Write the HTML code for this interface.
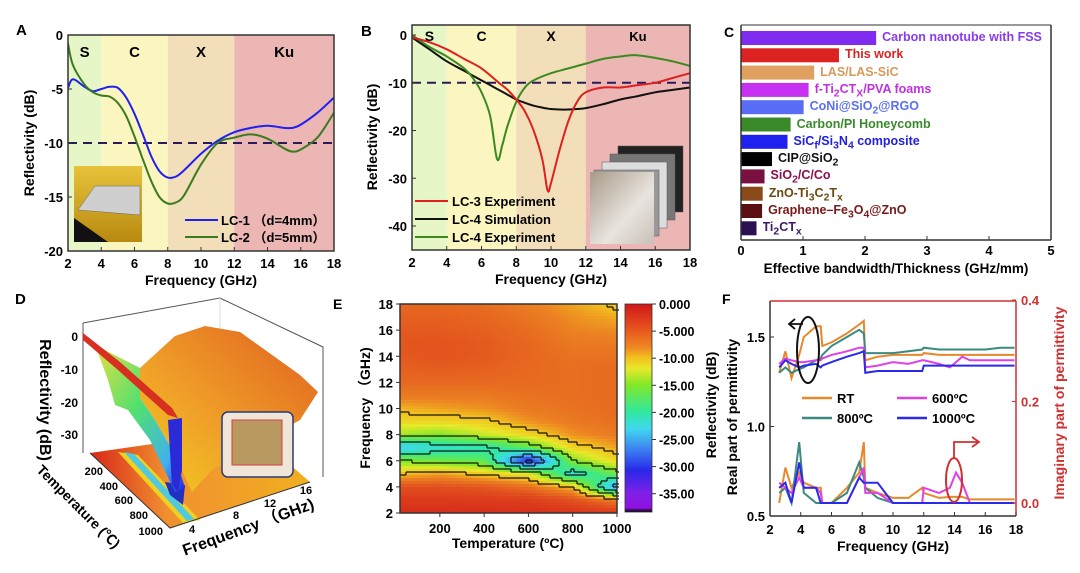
<!DOCTYPE html>
<html><head><meta charset="utf-8">
<style>
html,body{margin:0;padding:0;background:#fff;}
svg{display:block;font-family:"Liberation Sans",Arial,sans-serif;font-weight:bold;}
text{font-family:"Liberation Sans","Noto Sans CJK SC",sans-serif;}
</style></head>
<body>
<svg id="fig" width="1080" height="573" viewBox="0 0 1080 573" xmlns="http://www.w3.org/2000/svg">
<defs>
<linearGradient id="inA" x1="0" y1="0" x2="0" y2="1"><stop offset="0" stop-color="#e8c23a"/><stop offset="1" stop-color="#b88a10"/></linearGradient>
<linearGradient id="inB" x1="0" y1="0" x2="1" y2="1"><stop offset="0" stop-color="#a89a88"/><stop offset="0.6" stop-color="#e8e4de"/><stop offset="1" stop-color="#c8c0b8"/></linearGradient>
<linearGradient id="hill" x1="0" y1="1" x2="1" y2="0"><stop offset="0" stop-color="#f0d020"/><stop offset="0.4" stop-color="#f0a028"/><stop offset="1" stop-color="#e06020"/></linearGradient>
<linearGradient id="slope" x1="0" y1="0" x2="1" y2="1"><stop offset="0" stop-color="#e8e040"/><stop offset="0.45" stop-color="#50e070"/><stop offset="0.8" stop-color="#40b0f0"/><stop offset="1" stop-color="#2020e0"/></linearGradient>
<linearGradient id="floorg" x1="0" y1="0" x2="1" y2="0"><stop offset="0" stop-color="#d82818"/><stop offset="0.35" stop-color="#f09030"/><stop offset="1" stop-color="#f0b020"/></linearGradient>
<linearGradient id="cbar" x1="0" y1="0" x2="0" y2="1"><stop offset="0" stop-color="#d01818"/><stop offset="0.13" stop-color="#e85a1e"/><stop offset="0.21" stop-color="#ee8a22"/><stop offset="0.26" stop-color="#f2c21e"/><stop offset="0.31" stop-color="#e8e82a"/><stop offset="0.39" stop-color="#80e828"/><stop offset="0.52" stop-color="#30e8a0"/><stop offset="0.6" stop-color="#40d8f0"/><stop offset="0.7" stop-color="#3c80f0"/><stop offset="0.8" stop-color="#2828e8"/><stop offset="0.91" stop-color="#8020e8"/><stop offset="0.98" stop-color="#9010e0"/><stop offset="1" stop-color="#000"/></linearGradient>
<clipPath id="clipA"><rect x="68" y="35" width="266" height="216"/></clipPath>
<clipPath id="clipB"><rect x="412" y="25" width="278" height="225"/></clipPath>
<clipPath id="clipF"><rect x="770" y="301" width="246" height="215"/></clipPath>
</defs>
<g id="gA"></g>
<g id="gB"></g>
<g id="gC"></g>
<g id="gD">
  <text x="15" y="304" font-size="15">D</text>
  <polyline points="83,323 220,298 323,347 323,477" fill="none" stroke="#555" stroke-width="1"/>
  <line x1="83" y1="323" x2="83" y2="453" stroke="#555"/>
  <line x1="220" y1="298" x2="220" y2="420" stroke="#ddd"/>
  <polygon points="90,453 170,528 310,482 250,430" fill="url(#floorg)"/>
  <polygon points="118,452 138,455 200,520 183,523" fill="#f0d020"/>
  <polygon points="124,452 134,454 194,519 187,521" fill="#50c8e0"/>
  <polygon points="165,482 185,485 183,505 170,495" fill="#2030c0"/>
  <polyline points="90,453 170,528 310,482" fill="none" stroke="#333"/>
  <polygon points="140,368 175,336 205,326 240,332 268,352 300,375 318,392 300,420 255,445 212,470 192,492 175,455 155,420 140,398" fill="url(#hill)"/>
  <polygon points="95,345 140,368 140,398 155,420 175,455 185,488 175,492 150,440 128,410 115,405 108,380" fill="url(#slope)"/>
  <polygon points="83,333 120,362 172,408 178,418 168,415 118,370 83,340" fill="#d83020"/>
  <polygon points="168,420 182,418 182,470 178,492 172,485" fill="#2a2ad8"/>
  <rect x="222" y="412" width="71" height="65" rx="6" fill="#efe6d8" stroke="#2a3a78" stroke-width="1.5"/>
  <rect x="232" y="420" width="50" height="45" fill="#b89a60" stroke="#d04040"/>
  <g font-size="12" text-anchor="end">
    <text x="78" y="341">0</text><text x="78" y="374">-10</text><text x="78" y="407">-20</text><text x="78" y="439">-30</text>
  </g>
  <text transform="translate(40,400) rotate(90)" font-size="16" text-anchor="middle">Reflectivity (dB)</text>
  <g font-size="11" text-anchor="end">
    <text x="103" y="475">200</text><text x="118" y="490">400</text><text x="133" y="504">600</text><text x="148" y="519">800</text><text x="163" y="535">1000</text>
  </g>
  <text transform="translate(75,510) rotate(45)" font-size="14" text-anchor="middle">Temperature (℃)</text>
  <g font-size="11" text-anchor="middle">
    <text x="192" y="533">4</text><text x="236" y="519">8</text><text x="270" y="507">12</text><text x="306" y="494">16</text>
  </g>
  <text transform="translate(250,532) rotate(-20)" font-size="16" text-anchor="middle">Frequency （GHz)</text>
</g>
<g id="gE"></g>
<g id="gF"></g>
</svg>
<script>
// ---------- Panel A data ----------
const freqA = [2,2.3,3,3.5,4,4.5,5,5.5,6,6.5,7,7.5,8,8.5,9,10,11,12,13,14,15,15.5,16,17,18];
const lc1 = [-4.9,-4.1,-4.8,-5.2,-5.0,-4.8,-4.9,-5.8,-7.3,-9.2,-11.2,-12.6,-13.2,-13.1,-12.5,-11.0,-9.8,-9.0,-8.6,-8.4,-8.6,-8.6,-8.3,-7.2,-5.8];
const lc2 = [-0.8,-2.8,-4.6,-5.3,-5.6,-5.7,-6.3,-7.5,-9.4,-11.5,-13.5,-15.0,-15.6,-15.5,-14.8,-12.0,-10.0,-9.5,-9.2,-9.6,-10.5,-10.8,-10.6,-9.5,-7.2];
const ticksA_y = [0,-5,-10,-15,-20];
const ticksX = [2,4,6,8,10,12,14,16,18];
// ---------- Panel B data ----------
const freqB = [2,3,4,5,6,7,7.5,8,8.5,9,9.5,9.8,10,10.5,11,11.5,12,13,14,15,16,17,18];
const lc3exp = [-0.5,-1.5,-3,-5,-7,-10,-11.5,-13.5,-16,-20,-26,-32.5,-31,-24,-18,-14,-12,-11,-11,-10.5,-10,-9,-8];
const lc4sim = [-0.5,-3,-5.5,-7.5,-9.5,-11.5,-12.5,-13.5,-14.2,-14.8,-15.2,-15.4,-15.5,-15.6,-15.6,-15.5,-15.3,-14.5,-13.5,-12.8,-12,-11.5,-11];
const freqB2 = [2,3,4,5,5.5,6,6.5,6.9,7.2,7.5,8,8.5,9,10,11,12,13,14,14.8,16,17,18];
const lc4exp = [0,-2.5,-4.5,-7,-9,-12,-17,-26,-23,-19,-14,-11,-9.5,-8,-7,-6,-5,-4.5,-4.2,-4.8,-5.5,-6.5];
const ticksB_y = [0,-10,-20,-30,-40];
// ---------- Panel C data ----------
const materialsC = ["Carbon nanotube with FSS","This work","LAS/LAS-SiC","f-Ti<sub>2</sub>CT<sub>X</sub>/PVA foams","CoNi@SiO<sub>2</sub>@RGO","Carbon/PI Honeycomb","SiC<sub>f</sub>/Si<sub>3</sub>N<sub>4</sub> composite","CIP@SiO<sub>2</sub>","SiO<sub>2</sub>/C/Co","ZnO-Ti<sub>3</sub>C<sub>2</sub>T<sub>x</sub>","Graphene–Fe<sub>3</sub>O<sub>4</sub>@ZnO","Ti<sub>2</sub>CT<sub>x</sub>"];
const valuesC = [2.18,1.58,1.18,1.09,1.01,0.80,0.75,0.50,0.38,0.35,0.34,0.25];
const ticksC = [0,1,2,3,4,5];
// ---------- Panel E data ----------
const tempsE = [20,200,400,600,800,1000];
const freqsE = [2,3,4,5,6,7,8,9,10,11,12,13,14,15,16,17,18];
const rlE = [
 [-2,-3,-5,-10,-15,-24,-14,-11,-9.5,-7.5,-6.5,-6,-5.5,-5.3,-5.6,-6,-6.5],
 [-2,-3,-5,-9,-16,-22,-15,-11,-9,-7.5,-6.5,-5.8,-5.2,-5.2,-5.6,-6,-6.5],
 [-2,-3.2,-5.5,-10.5,-17,-21,-13,-10.5,-8.5,-7.5,-6.5,-6,-5.6,-5.6,-6,-6.3,-6.8],
 [-2,-3.5,-7,-12,-32,-17,-11,-8.5,-7.5,-7,-6.6,-6.5,-6.3,-6.4,-6.7,-7.2,-7.8],
 [-2.5,-5,-10,-22,-15,-11,-8.5,-7.5,-7,-6.8,-6.8,-6.8,-7,-7.4,-8,-8.4,-9],
 [-3,-8,-27,-16,-11,-9,-7.5,-6.8,-6.6,-6.6,-6.6,-6.6,-7,-7.6,-8.3,-9.3,-10.5]];
const ticksE_x = [200,400,600,800,1000];
const ticksE_y = [2,4,6,8,10,12,14,16,18];
const cbarLabels = ["0.000","-5.000","-10.00","-15.00","-20.00","-25.00","-30.00","-35.00"];
// ---------- Panel F data ----------
const freqF = [2.6,3.0,3.4,3.9,4.2,5.0,5.3,5.4,6.0,7.0,7.8,8.1,8.2,9.0,10.0,11.0,11.9,12.0,13.0,13.7,14.1,14.5,15.0,16.0,17.0,17.9];
const realRT  = [1.30,1.42,1.27,1.40,1.50,1.56,1.56,1.45,1.47,1.52,1.57,1.59,1.37,1.39,1.40,1.40,1.40,1.41,1.40,1.40,1.40,1.40,1.40,1.40,1.40,1.40];
const real600 = [1.35,1.38,1.37,1.36,1.36,1.37,1.37,1.38,1.40,1.42,1.44,1.44,1.33,1.34,1.36,1.35,1.37,1.37,1.35,1.33,1.36,1.39,1.37,1.37,1.37,1.37];
const real800 = [1.30,1.33,1.30,1.32,1.33,1.37,1.38,1.40,1.45,1.50,1.54,1.52,1.41,1.41,1.41,1.42,1.43,1.44,1.43,1.43,1.43,1.43,1.43,1.43,1.44,1.44];
const real1000= [1.33,1.37,1.35,1.33,1.34,1.35,1.33,1.34,1.36,1.39,1.41,1.42,1.30,1.31,1.31,1.31,1.31,1.34,1.34,1.34,1.34,1.34,1.34,1.34,1.34,1.34];
const imRT  = [0.00,0.07,0.03,0.06,0.04,0.03,0.03,0.00,0.00,0.03,0.06,0.12,0.03,0.02,0.01,0.01,0.03,0.02,0.01,0.012,0.012,0.012,0.007,0.007,0.007,0.007];
const im600 = [0.04,0.03,0.02,0.05,0.03,0.03,0.02,0.00,0.00,0.00,0.05,0.07,0.02,0.02,0.00,0.00,0.00,0.03,0.02,0.03,0.06,0.04,0.00,0.00,0.00,0.00];
const im800 = [0.02,0.03,0.00,0.12,0.02,0.00,0.00,0.00,0.00,0.02,0.08,0.05,0.03,0.01,0.00,0.00,0.00,0.00,0.00,0.00,0.00,0.00,0.00,0.00,0.00,0.00];
const im1000= [0.03,0.04,0.00,0.08,0.03,0.03,0.00,0.00,0.00,0.00,0.05,0.04,0.04,0.04,0.00,0.00,0.00,0.00,0.00,0.00,0.00,0.00,0.00,0.00,0.00,0.00];
const ticksF_left = [0.5,1.0,1.5];
const ticksF_right = [0.0,0.2,0.4];

const NS = "http://www.w3.org/2000/svg";
function mk(parent, tag, attrs, txt){
  const e = document.createElementNS(NS, tag);
  for (const k in attrs) e.setAttribute(k, attrs[k]);
  if (txt !== undefined) e.textContent = txt;
  parent.appendChild(e);
  return e;
}
function lin(d0,d1,r0,r1){ return v => r0 + (v-d0)/(d1-d0)*(r1-r0); }
function smoothPath(xs, ys){
  let d = "M"+xs[0].toFixed(1)+","+ys[0].toFixed(1);
  for (let i=0;i<xs.length-1;i++){
    const x0=xs[Math.max(i-1,0)], y0=ys[Math.max(i-1,0)];
    const x1=xs[i], y1=ys[i], x2=xs[i+1], y2=ys[i+1];
    const x3=xs[Math.min(i+2,xs.length-1)], y3=ys[Math.min(i+2,xs.length-1)];
    const c1x=x1+(x2-x0)/6, c1y=y1+(y2-y0)/6, c2x=x2-(x3-x1)/6, c2y=y2-(y3-y1)/6;
    d += " C"+c1x.toFixed(1)+","+c1y.toFixed(1)+" "+c2x.toFixed(1)+","+c2y.toFixed(1)+" "+x2.toFixed(1)+","+y2.toFixed(1);
  }
  return d;
}
function linePath(xs, ys){ return xs.map((x,i)=>(i?"L":"M")+x.toFixed(1)+","+ys[i].toFixed(1)).join(" "); }

// ---------- Panel A ----------
(function(){
  const g = document.getElementById("gA");
  const L=68,R=334,T=35,B=251;
  const x = lin(2,18,L,R), y = lin(0,-20,T,B);
  const bands = [[2,4,"#e6f6c6","S"],[4,8,"#fbf5c0","C"],[8,12,"#f2dfba","X"],[12,18,"#ebb6b4","Ku"]];
  bands.forEach(b=>{
    const r = mk(g,"rect",{x:x(b[0]),y:T,width:x(b[1])-x(b[0]),height:B-T,fill:b[2]});
    
    
    const t = mk(g,"text",{x:(x(b[0])+x(b[1]))/2,y:57,"font-size":15,"text-anchor":"middle"},b[3]);
    
    
  });
  const ins = mk(g,"rect",{x:74,y:166,width:68,height:76,fill:"url(#inA)"});
  
  
  const grid = mk(g,"polygon",{points:"78,210 95,186 140,186 140,215",fill:"#cfcfcf",stroke:"#666","stroke-width":"0.5"});
  
  
  mk(g,"polygon",{points:"74,242 74,218 108,242",fill:"#111"});
  const th = mk(g,"line",{x1:L,x2:R,y1:y(-10),y2:y(-10),stroke:"#2a1a5a","stroke-width":2,"stroke-dasharray":"9,6"});
  
  
  const p1 = mk(g,"path",{d:smoothPath(freqA.map(x),lc1.map(y)),fill:"none",stroke:"#2020f0","stroke-width":2,"clip-path":"url(#clipA)"});
  
  
  const p2 = mk(g,"path",{d:smoothPath(freqA.map(x),lc2.map(y)),fill:"none",stroke:"#3a7a20","stroke-width":2,"clip-path":"url(#clipA)"});
  
  
  const fr = mk(g,"rect",{x:L,y:T,width:R-L,height:B-T,fill:"none",stroke:"#333","stroke-width":1.5});
  
  
  ticksA_y.forEach(v=>{
    mk(g,"line",{x1:L,x2:L+4,y1:y(v),y2:y(v),stroke:"#333"});
    const t = mk(g,"text",{x:L-5,y:y(v)+5,"font-size":13,"text-anchor":"end"},v);
    
    
  });
  ticksX.forEach(v=>{
    mk(g,"line",{x1:x(v),x2:x(v),y1:B,y2:B-4,stroke:"#333"});
    const t = mk(g,"text",{x:x(v),y:B+17,"font-size":13,"text-anchor":"middle"},v);
    
    
  });
  const xt = mk(g,"text",{x:201,y:285,"font-size":14,"text-anchor":"middle"},"Frequency (GHz)");
  
  
  const yt = mk(g,"text",{transform:"translate(34,143) rotate(-90)","font-size":14,"text-anchor":"middle"},"Reflectivity (dB)");
  
  
  const lab = mk(g,"text",{x:16,y:35,"font-size":15},"A");
  
  
  [["LC-1 （d=4mm）","#2020f0",220],["LC-2 （d=5mm）","#3a7a20",237]].forEach(l=>{
    mk(g,"line",{x1:185,x2:218,y1:l[2],y2:l[2],stroke:l[1],"stroke-width":2});
    const t = mk(g,"text",{x:221,y:l[2]+5,"font-size":13},l[0]);
    
    
  });
})();

// ---------- Panel B ----------
(function(){
  const g = document.getElementById("gB");
  const L=412,R=690,T=25,B=250;
  const x = lin(2,18,L,R), y = lin(0,-40,35,226);
  const bands = [[2,4,"#e6f6c6","S"],[4,8,"#fbf5c0","C"],[8,12,"#f2dfba","X"],[12,18,"#ebb6b4","Ku"]];
  bands.forEach(b=>{
    const r = mk(g,"rect",{x:x(b[0]),y:T,width:x(b[1])-x(b[0]),height:B-T,fill:b[2]});
    
    
    const t = mk(g,"text",{x:(x(b[0])+x(b[1]))/2,y:41,"font-size":b[3]=="Ku"?13:14,"text-anchor":"middle"},b[3]);
    
    
  });
  [[618,146,"#222"],[610,154,"#777"],[602,162,"#ddd"],[594,170,"#999"]].forEach((s,i)=>{
    const r = mk(g,"rect",{x:s[0],y:s[1],width:65,height:66,fill:s[2],stroke:"#555","stroke-width":0.5});
    
    
  });
  const ins = mk(g,"rect",{x:590,y:172,width:64,height:72,fill:"url(#inB)"});
  
  
  const th = mk(g,"line",{x1:L,x2:R,y1:y(-10),y2:y(-10),stroke:"#2a1a5a","stroke-width":2,"stroke-dasharray":"9,6"});
  
  
  const series = [[freqB,lc4sim,"#111","line-lc-4-simulation"],[freqB2,lc4exp,"#3a8a20","line-lc-4-experiment"],[freqB,lc3exp,"#e02020","line-lc-3-experiment"]];
  series.forEach(s=>{
    const p = mk(g,"path",{d:smoothPath(s[0].map(x),s[1].map(y)),fill:"none",stroke:s[2],"stroke-width":2,"clip-path":"url(#clipB)"});
    
    
  });
  const fr = mk(g,"rect",{x:L,y:T,width:R-L,height:B-T,fill:"none",stroke:"#333","stroke-width":1.5});
  
  
  ticksB_y.forEach(v=>{
    mk(g,"line",{x1:L,x2:L+4,y1:y(v),y2:y(v),stroke:"#333"});
    const t = mk(g,"text",{x:L-5,y:y(v)+5,"font-size":13,"text-anchor":"end"},v);
    
    
  });
  ticksX.forEach(v=>{
    mk(g,"line",{x1:x(v),x2:x(v),y1:B,y2:B-4,stroke:"#333"});
    const t = mk(g,"text",{x:x(v),y:B+17,"font-size":13,"text-anchor":"middle"},v);
    
    
  });
  const xt = mk(g,"text",{x:551,y:284,"font-size":14,"text-anchor":"middle"},"Frequency (GHz)");
  
  
  const yt = mk(g,"text",{transform:"translate(377,137) rotate(-90)","font-size":14,"text-anchor":"middle"},"Reflectivity (dB)");
  
  
  const lab = mk(g,"text",{x:361,y:36,"font-size":15},"B");
  
  
  [["LC-3   Experiment","#e02020",201],["LC-4   Simulation","#111",219],["LC-4   Experiment","#3a8a20",237]].forEach(l=>{
    mk(g,"line",{x1:415,x2:448,y1:l[2],y2:l[2],stroke:l[1],"stroke-width":2});
    const t = mk(g,"text",{x:452,y:l[2]+5,"font-size":13},l[0]);
    
    
  });
})();

// ---------- Panel C ----------
(function(){
  const g = document.getElementById("gC");
  const L=741,R=1051,T=25,B=240;
  const x = lin(0,5,L,R);
  const barColors = ["#7f2cf0","#dd2222","#e0a060","#c630f0","#5a6ef5","#3a8a2a","#2020f0","#000","#7a1040","#8a4a1a","#5a1010","#2a1050"];
  const labColors = ["#8a3af0","#dd2222","#d89a5a","#c030e0","#5a70f0","#3a8a2a","#2020e0","#111","#8a1050","#6a4a10","#7a1a1a","#3a1a6a"];
  valuesC.forEach((v,i)=>{
    const cy = 38 + i*17.3;
    const r = mk(g,"rect",{x:L,y:cy-7,width:x(v)-L,height:14,fill:barColors[i]});
    
    
    const fo = mk(g,"foreignObject",{x:x(v)+6,y:cy-10,width:260,height:20});
    
    
    const d = document.createElement("div");
    d.style.cssText = "font:bold 12.5px 'Liberation Sans',sans-serif;color:"+labColors[i]+";white-space:nowrap;line-height:18px;";
    d.innerHTML = materialsC[i];
    fo.appendChild(d);
  });
  mk(g,"line",{x1:L,x2:L,y1:T,y2:B,stroke:"#333","stroke-width":1.5});
  mk(g,"line",{x1:L,x2:R,y1:B,y2:B,stroke:"#333","stroke-width":1.5});
  mk(g,"line",{x1:R,x2:R,y1:T,y2:B,stroke:"#333","stroke-width":1.5});
  mk(g,"line",{x1:L,x2:R,y1:T,y2:T,stroke:"#333","stroke-width":1});
  ticksC.forEach(v=>{
    mk(g,"line",{x1:x(v),x2:x(v),y1:B,y2:B-4,stroke:"#333"});
    const t = mk(g,"text",{x:x(v),y:B+15,"font-size":13,"text-anchor":"middle"},v);
    
    
  });
  const xt = mk(g,"text",{x:896,y:273,"font-size":13.5,"text-anchor":"middle"},"Effective bandwidth/Thickness (GHz/mm)");
  
  
  const lab = mk(g,"text",{x:724,y:37,"font-size":14},"C");
  
  
})();

// ---------- Panel E ----------
(function(){
  const g = document.getElementById("gE");
  const L=400,R=617,T=304,B=513;
  const x = lin(20,1000,L,R), y = lin(2,18,B,T);
  const stops = [[0,[208,24,24]],[-5,[226,80,30]],[-8,[236,130,34]],[-10,[242,194,30]],[-12,[232,232,42]],[-15,[128,232,40]],[-20,[48,232,160]],[-23,[64,216,240]],[-27,[60,128,240]],[-31,[40,40,232]],[-35,[128,32,232]],[-40,[144,16,224]]];
  function cmap(v){
    for (let i=0;i<stops.length-1;i++){
      const a=stops[i],b=stops[i+1];
      if (v<=a[0] && v>=b[0]){
        const t=(a[0]-v)/(a[0]-b[0]);
        const c=a[1].map((q,k)=>Math.round(q+(b[1][k]-q)*t));
        return "rgb("+c.join(",")+")";
      }
    }
    return v>0?"rgb(208,24,24)":"rgb(144,16,224)";
  }
  function val(T0,f0){
    let i=0; while(i<tempsE.length-2 && T0>tempsE[i+1]) i++;
    let j=0; while(j<freqsE.length-2 && f0>freqsE[j+1]) j++;
    const tx=Math.min(1,Math.max(0,(T0-tempsE[i])/(tempsE[i+1]-tempsE[i])));
    const ty=Math.min(1,Math.max(0,(f0-freqsE[j])/(freqsE[j+1]-freqsE[j])));
    const a=rlE[i][j],b=rlE[i+1][j],c=rlE[i][j+1],d=rlE[i+1][j+1];
    return a*(1-tx)*(1-ty)+b*tx*(1-ty)+c*(1-tx)*ty+d*tx*ty;
  }
  const cw=3, ch=3;
  const cells = mk(g,"g",{});
  
  
  const levels=[-10,-15,-20,-25,-30];
  const cols=Math.ceil((R-L)/cw), rows=Math.ceil((B-T)/ch);
  const grid=[];
  for (let c=0;c<cols;c++){
    grid[c]=[];
    for (let r=0;r<rows;r++){
      const px=L+c*cw+cw/2, py=T+r*ch+ch/2;
      const tv=20+(px-L)/(R-L)*980, fv=18-(py-T)/(B-T)*16;
      const v=val(tv,fv); grid[c][r]=v;
      const rc = mk(cells,"rect",{x:L+c*cw,y:T+r*ch,width:Math.min(cw,R-(L+c*cw))+0.4,height:Math.min(ch,B-(T+r*ch))+0.4,fill:cmap(v)});
      
      
    }
  }
  const cont = mk(g,"g",{fill:"#111"});
  
  
  for (let c=0;c<cols;c++) for (let r=0;r<rows-1;r++){
    const a=grid[c][r], b=grid[c][r+1];
    levels.forEach(lv=>{ if ((a-lv)*(b-lv)<0) mk(cont,"rect",{x:L+c*cw,y:T+(r+1)*ch-0.6,width:cw,height:1.2}); });
  }
  for (let c=0;c<cols-1;c++) for (let r=0;r<rows;r++){
    const a=grid[c][r], b=grid[c+1][r];
    levels.forEach(lv=>{ if ((a-lv)*(b-lv)<0) mk(cont,"rect",{x:L+(c+1)*cw-0.6,y:T+r*ch,width:1.2,height:ch}); });
  }
  const fr = mk(g,"rect",{x:L,y:T,width:R-L,height:B-T,fill:"none",stroke:"#333","stroke-width":1.5});
  
  
  ticksE_y.forEach(v=>{
    mk(g,"line",{x1:L-4,x2:L,y1:y(v),y2:y(v),stroke:"#333"});
    const t = mk(g,"text",{x:L-7,y:y(v)+5,"font-size":13,"text-anchor":"end"},v);
    
    
  });
  ticksE_x.forEach(v=>{
    mk(g,"line",{x1:x(v),x2:x(v),y1:B,y2:B+4,stroke:"#333"});
    const t = mk(g,"text",{x:x(v),y:B+20,"font-size":13,"text-anchor":"middle"},v);
    
    
  });
  const xt = mk(g,"text",{x:508,y:548,"font-size":14,"text-anchor":"middle"},"Temperature (ºC)");
  
  
  const yt = mk(g,"text",{transform:"translate(370,408) rotate(-90)","font-size":14,"text-anchor":"middle"},"Frequency （GHz)");
  
  
  const lab = mk(g,"text",{x:333,y:309,"font-size":14},"E");
  
  
  const cb = mk(g,"rect",{x:625,y:304,width:27,height:208,fill:"url(#cbar)",stroke:"#333","stroke-width":0.8});
  
  
  cbarLabels.forEach((s,i)=>{
    const yy = 304 + i*27.1;
    mk(g,"line",{x1:652,x2:656,y1:yy,y2:yy,stroke:"#333"});
    const t = mk(g,"text",{x:659,y:yy+5,"font-size":12.5},s);
    
    
  });
})();

// ---------- Panel F ----------
(function(){
  const g = document.getElementById("gF");
  const L=770,R=1016,T=301,B=516;
  const x = lin(2,18,L,R), yl = lin(0.5,1.5,B,337), yr = lin(0,0.4,503,300);
  const series = [["RT","#e8882a",realRT,imRT],["800","#3a8a80",real800,im800],["600","#e040e8",real600,im600],["1000","#2a2ae8",real1000,im1000]];
  series.forEach(s=>{
    const p = mk(g,"path",{d:linePath(freqF.map(x),s[2].map(yl)),fill:"none",stroke:s[1],"stroke-width":2,"clip-path":"url(#clipF)"});
    
    
    const q = mk(g,"path",{d:linePath(freqF.map(x),s[3].map(yr)),fill:"none",stroke:s[1],"stroke-width":2,"clip-path":"url(#clipF)"});
    
    
  });
  mk(g,"line",{x1:L,x2:L,y1:T,y2:B,stroke:"#333","stroke-width":1.5});
  mk(g,"line",{x1:L,x2:R,y1:B,y2:B,stroke:"#333","stroke-width":1.5});
  mk(g,"line",{x1:L,x2:R,y1:T,y2:T,stroke:"#d03030","stroke-width":1.5});
  mk(g,"line",{x1:R,x2:R,y1:T,y2:B,stroke:"#d03030","stroke-width":1.5});
  ticksF_left.forEach(v=>{
    mk(g,"line",{x1:L,x2:L+4,y1:yl(v),y2:yl(v),stroke:"#333"});
    const t = mk(g,"text",{x:L-5,y:yl(v)+5,"font-size":13,"text-anchor":"end"},v.toFixed(1));
    
    
  });
  ticksF_right.forEach(v=>{
    mk(g,"line",{x1:R-4,x2:R,y1:yr(v),y2:yr(v),stroke:"#d03030"});
    const t = mk(g,"text",{x:R+5,y:yr(v)+5,"font-size":13,fill:"#d03030"},v.toFixed(1));
    
    
  });
  ticksX.forEach(v=>{
    mk(g,"line",{x1:x(v),x2:x(v),y1:B,y2:B-4,stroke:"#333"});
    const t = mk(g,"text",{x:x(v),y:B+18,"font-size":13,"text-anchor":"middle"},v);
    
    
  });
  const xt = mk(g,"text",{x:893,y:551,"font-size":14,"text-anchor":"middle"},"Frequency (GHz)");
  
  
  const yt1 = mk(g,"text",{transform:"translate(716,405) rotate(-90)","font-size":14,"text-anchor":"middle"},"Reflectivity (dB)");
  
  
  const yt2 = mk(g,"text",{transform:"translate(737,417) rotate(-90)","font-size":14,"text-anchor":"middle"},"Real part of permittivity");
  
  
  const yt3 = mk(g,"text",{transform:"translate(1064,403) rotate(-90)","font-size":14,"text-anchor":"middle",fill:"#d03030"},"Imaginary part of permittivity");
  
  
  const lab = mk(g,"text",{x:722,y:304,"font-size":14},"F");
  
  
  [["RT","#e8882a",802,398],["600ºC","#e040e8",897,398],["800ºC","#3a8a80",802,418],["1000ºC","#2a2ae8",897,418]].forEach(l=>{
    mk(g,"line",{x1:l[2],x2:l[2]+30,y1:l[3],y2:l[3],stroke:l[1],"stroke-width":2.5});
    const t = mk(g,"text",{x:l[2]+35,y:l[3]+5,"font-size":13},l[0]);
    
    
  });
  const e1 = mk(g,"ellipse",{cx:808,cy:350,rx:11,ry:33,fill:"none",stroke:"#111","stroke-width":2});
  
  
  mk(g,"path",{d:"M803,324 L790,324 M795,319 L789,324 L795,329",fill:"none",stroke:"#111","stroke-width":1.8});
  const e2 = mk(g,"ellipse",{cx:954,cy:480,rx:8,ry:22,fill:"none",stroke:"#d03030","stroke-width":2});
  
  
  mk(g,"path",{d:"M954,458 L954,442 L978,442 M972,437 L979,442 L972,447",fill:"none",stroke:"#d03030","stroke-width":1.8});
})();
</script>
</body></html>
